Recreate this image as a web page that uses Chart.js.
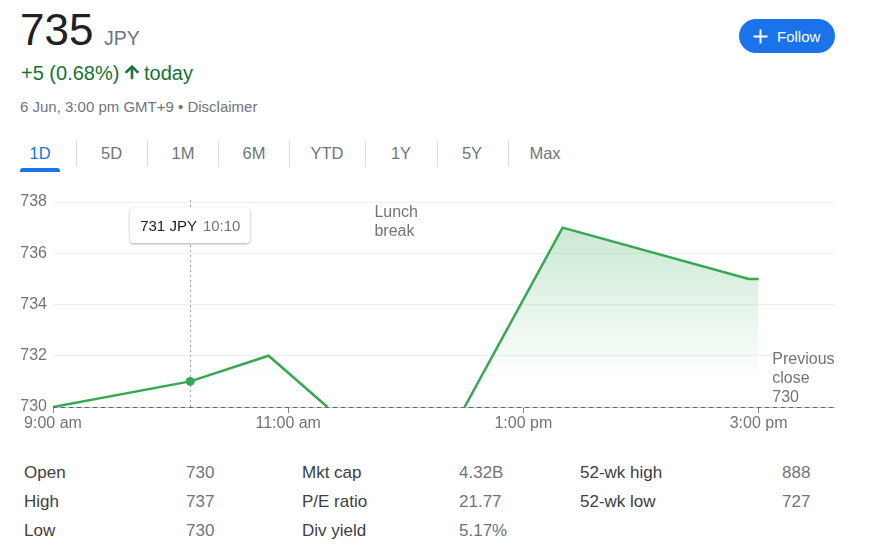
<!DOCTYPE html>
<html>
<head>
<meta charset="utf-8">
<script src="https://cdn.jsdelivr.net/npm/chart.js@4/dist/chart.umd.min.js"></script>
<style>
  html, body { margin: 0; padding: 0; background: #fff; }
  body { width: 875px; height: 557px; position: relative; overflow: hidden;
         font-family: "Liberation Sans", Arial, sans-serif; }
  .abs { position: absolute; white-space: nowrap; line-height: 1; }
  #price { left: 20px; top: 8px; font-size: 44px; color: #202124; }
  #cur { left: 104px; top: 29px; font-size: 19.5px; color: #70757a; }
  #chg { left: 21px; top: 63px; font-size: 20px; color: #137333; }
  #arrow { position: absolute; left: 122px; top: 62px; width: 20px; height: 20px; }
  #today { left: 144px; top: 63px; font-size: 20px; color: #137333; }
  #date { left: 20px; top: 99px; font-size: 15px; color: #70757a; }
  #follow { position: absolute; left: 739px; top: 19px; width: 96px; height: 34px;
            border-radius: 17px; background: #1a73e8; }
  #follow span { position: absolute; left: 38px; top: 10px; font-size: 15px; color: #fff; line-height: 1; }
  #follow svg { position: absolute; left: 13px; top: 9px; }
  .tab { top: 145px; font-size: 16.5px; color: #70757a; transform: translateX(-50%); }
  .sep { position: absolute; top: 140px; width: 1px; height: 27px; background: #dadce0; }
  #uline { position: absolute; left: 20px; top: 168px; width: 40px; height: 4px;
           background: #1a73e8; border-radius: 3px 3px 0 0; }
  #chartbox { position: absolute; left: 0; top: 185px; width: 875px; height: 260px; }
  .ann { font-size: 16px; color: #70757a; line-height: 19px; }
  #tip { position: absolute; height: 35px; background: #fff; border-radius: 4px;
         box-shadow: 0 1px 3px rgba(60,64,67,0.3), 0 1px 2px rgba(60,64,67,0.15);
         font-size: 15px; line-height: 35px; padding: 0 10px; white-space: nowrap; box-sizing: border-box; }
  #tip .v { color: #202124; }
  #tip .t { color: #70757a; margin-left: 6px; }
  .lab { font-size: 17px; color: #3c4043; }
  .val { font-size: 17px; color: #70757a; }
</style>
</head>
<body>
<div class="abs" id="price">735</div>
<div class="abs" id="cur">JPY</div>
<div class="abs" id="chg">+5 (0.68%)</div>
<svg id="arrow" viewBox="0 0 24 24"><path fill="#137333" stroke="#137333" stroke-width="1.2" stroke-linejoin="round" d="M4 12l1.41 1.41L11 7.83V20h2V7.83l5.58 5.59L20 12l-8-8-8 8z"/></svg>
<div class="abs" id="today">today</div>
<div class="abs" id="date">6 Jun, 3:00 pm GMT+9 • Disclaimer</div>
<div id="follow"><svg width="17" height="17" viewBox="0 0 17 17"><path d="M8.5 1.5v14M1.5 8.5h14" stroke="#fff" stroke-width="2"/></svg><span>Follow</span></div>
<div id="tabs"></div>
<div id="uline"></div>
<div id="chartbox"><canvas id="c" width="875" height="260"></canvas></div>
<div id="overlay"></div>
<div id="stats"></div>
<script>
// ---- data ----
const timeLabels = ['9:00', '10:10', '10:50', '11:20', '12:00', '12:30', '13:20', '14:55', '15:00'];
const prices     = [730,     731,     732,     730,     null,    730,     737,     735,     735];
const yTickValues = [730, 732, 734, 736, 738];
const xTickTimes  = ['9:00', '11:00', '13:00', '15:00'];
const xTickLabels = ['9:00 am', '11:00 am', '1:00 pm', '3:00 pm'];
const axisStart = '9:00';
const axisEnd = '15:39';
const previousClose = 730;
const highlightIndex = 1;
const highlightLabel = '731 JPY';
const tabNames = ['1D', '5D', '1M', '6M', 'YTD', '1Y', '5Y', 'Max'];
const statLabels1 = ['Open', 'High', 'Low'];
const statValues1 = ['730', '737', '730'];
const statLabels2 = ['Mkt cap', 'P/E ratio', 'Div yield'];
const statValues2 = ['4.32B', '21.77', '5.17%'];
const statLabels3 = ['52-wk high', '52-wk low'];
const statValues3 = ['888', '727'];

const toMin = t => { const [h, m] = t.split(':').map(Number); return h * 60 + m; };

// ---- tabs ----
const tabCenters = [40, 111.5, 183, 254, 327, 401, 472, 545];
const sepXs = [76, 147, 218, 289, 365, 437, 508];
const tabsEl = document.getElementById('tabs');
tabNames.forEach((n, i) => {
  const d = document.createElement('div');
  d.className = 'abs tab'; d.textContent = n;
  d.style.left = tabCenters[i] + 'px';
  if (i === 0) d.style.color = '#1a73e8';
  tabsEl.appendChild(d);
});
sepXs.forEach(x => { const s = document.createElement('div'); s.className = 'sep'; s.style.left = x + 'px'; tabsEl.appendChild(s); });

// ---- stats ----
const statsEl = document.getElementById('stats');
const rowTops = [464, 493, 522];
function addCol(labels, values, lx, vx) {
  labels.forEach((l, i) => {
    const a = document.createElement('div'); a.className = 'abs lab'; a.textContent = l;
    a.style.left = lx + 'px'; a.style.top = rowTops[i] + 'px'; statsEl.appendChild(a);
    const b = document.createElement('div'); b.className = 'abs val'; b.textContent = values[i];
    b.style.left = vx + 'px'; b.style.top = rowTops[i] + 'px'; statsEl.appendChild(b);
  });
}
addCol(statLabels1, statValues1, 24, 186);
addCol(statLabels2, statValues2, 302, 459);
addCol(statLabels3, statValues3, 580, 782);

// ---- chart ----
const GREEN = '#34a853';
const points = timeLabels.map((t, i) => ({ x: toMin(t), y: prices[i] }));

const overlayPlugin = {
  id: 'overlayPlugin',
  beforeDatasetsDraw(chart) {
    const { ctx, chartArea, scales } = chart;
    const px = scales.x.getPixelForValue(points[highlightIndex].x);
    const yb = scales.y.getPixelForValue(previousClose);
    ctx.save();
    ctx.strokeStyle = '#9aa0a6'; ctx.lineWidth = 1; ctx.setLineDash([2, 3]);
    ctx.beginPath(); ctx.moveTo(Math.round(px) + 0.5, chartArea.top - 2); ctx.lineTo(Math.round(px) + 0.5, yb); ctx.stroke();
    ctx.restore();
  },
  afterDatasetsDraw(chart) {
    const { ctx, chartArea, scales } = chart;
    const yb = Math.round(scales.y.getPixelForValue(previousClose)) + 0.5;
    ctx.save();
    ctx.lineWidth = 1;
    ctx.strokeStyle = '#bdc1c6';
    ctx.beginPath(); ctx.moveTo(chartArea.left, yb); ctx.lineTo(chartArea.right, yb); ctx.stroke();
    ctx.strokeStyle = '#5f6368'; ctx.setLineDash([4, 4]);
    ctx.beginPath(); ctx.moveTo(chartArea.left, yb); ctx.lineTo(chartArea.right, yb); ctx.stroke();
    ctx.restore();
  }
};

const chart = new Chart(document.getElementById('c'), {
  type: 'line',
  data: {
    datasets: [{
      data: points,
      borderColor: GREEN,
      borderWidth: 2.5,
      tension: 0,
      spanGaps: false,
      fill: { value: previousClose },
      backgroundColor(context) {
        const { ctx, chartArea, scales } = context.chart;
        if (!chartArea) return 'rgba(52,168,83,0)';
        const g = ctx.createLinearGradient(0, chartArea.top, 0, scales.y.getPixelForValue(731));
        g.addColorStop(0, 'rgba(52,168,83,0.3)');
        g.addColorStop(1, 'rgba(52,168,83,0)');
        return g;
      },
      pointRadius: c => c.dataIndex === highlightIndex ? 4.5 : 0,
      pointHoverRadius: 0,
      pointBackgroundColor: GREEN,
      pointBorderWidth: 0
    }]
  },
  options: {
    responsive: false,
    animation: false,
    devicePixelRatio: 1,
    layout: { padding: { top: 17, right: 40, bottom: 0, left: 0 } },
    plugins: { legend: { display: false }, tooltip: { enabled: false } },
    events: [],
    scales: {
      x: {
        type: 'linear',
        min: toMin(axisStart),
        max: toMin(axisEnd),
        afterBuildTicks(scale) { scale.ticks = xTickTimes.map(t => ({ value: toMin(t) })); },
        afterFit(scale) { scale.height = 38; },
        ticks: {
          autoSkip: false, maxRotation: 0, padding: 1,
          color: '#70757a', font: { family: '"Liberation Sans", Arial', size: 16 },
          callback(v) { const i = xTickTimes.map(toMin).indexOf(v); return i >= 0 ? xTickLabels[i] : ''; }
        },
        grid: { drawOnChartArea: false, drawTicks: true, tickLength: 6, color: '#80868b', lineWidth: 1 },
        border: { display: false }
      },
      y: {
        min: yTickValues[0],
        max: yTickValues[yTickValues.length - 1],
        afterBuildTicks(scale) { scale.ticks = yTickValues.map(v => ({ value: v })); },
        afterFit(scale) { scale.width = 53; },
        ticks: { padding: 6, color: '#70757a', font: { family: '"Liberation Sans", Arial', size: 16 } },
        grid: { drawTicks: false, color: '#efefef', lineWidth: 1 },
        border: { display: false }
      }
    }
  },
  plugins: [overlayPlugin]
});

// ---- overlays positioned from the chart scales ----
(function placeOverlays() {
  const box = document.getElementById('chartbox');
  const offX = box.offsetLeft, offY = box.offsetTop;
  const xs = chart.scales.x, ys = chart.scales.y, area = chart.chartArea;
  const ov = document.getElementById('overlay');

  const tip = document.createElement('div');
  tip.id = 'tip';
  tip.innerHTML = '<span class="v">' + highlightLabel + '</span><span class="t">' + timeLabels[highlightIndex] + '</span>';
  ov.appendChild(tip);
  const px = xs.getPixelForValue(points[highlightIndex].x) + offX;
  tip.style.left = (px - tip.offsetWidth / 2) + 'px';
  tip.style.top = (offY + area.top + 6) + 'px';

  const lunch = document.createElement('div');
  lunch.className = 'abs ann';
  lunch.innerHTML = 'Lunch<br>break';
  lunch.style.left = (offX + xs.getPixelForValue(toMin('11:44'))) + 'px';
  lunch.style.top = (offY + area.top) + 'px';
  ov.appendChild(lunch);

  const prev = document.createElement('div');
  prev.className = 'abs ann';
  prev.innerHTML = 'Previous<br>close<br>' + previousClose;
  prev.style.left = (offX + xs.getPixelForValue(toMin('15:07'))) + 'px';
  prev.style.top = (offY + ys.getPixelForValue(previousClose) - 58) + 'px';
  ov.appendChild(prev);
})();
</script>
</body>
</html>
